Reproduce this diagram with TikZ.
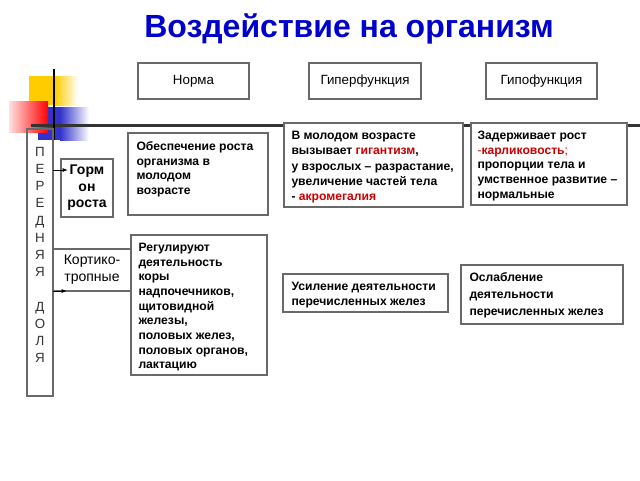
\documentclass[tikz,border=0pt]{standalone}
\usepackage{fontspec}
\setmainfont{Liberation Sans}
\usetikzlibrary{arrows.meta}

\definecolor{titleblue}{RGB}{0,0,204}
\definecolor{termred}{RGB}{204,0,0}
\definecolor{sqyellow}{RGB}{255,204,0}
\definecolor{sqred}{RGB}{255,0,0}
\definecolor{sqblue}{RGB}{51,51,204}
\definecolor{boxgray}{RGB}{105,105,105}

\tikzset{
	box/.style={draw=boxgray, line width=0.9pt, fill=white, inner sep=0pt, outer sep=0pt},
	headbox/.style={box, minimum height=27pt, font=\fontsize{10}{12}\selectfont},
	bodytext/.style={anchor=north west, inner sep=0pt, align=left, font=\bfseries\fontsize{9.1}{11}\selectfont},
	arr/.style={-{Latex[length=4pt,width=3pt]}, line width=0.75pt}}
\tikzset{every picture/.style={line width=0.75pt}}
\newcommand{\term}[1]{\textcolor{termred}{#1}}

\begin{document}
\begin{tikzpicture}[x=0.75pt,y=0.75pt,yscale=-1,xscale=1]
	\fill[white] (0,0) rectangle (640,480);
	\useasboundingbox (0,0) rectangle (640,480);

	%Shape: Square yellow
	\fill[sqyellow] (29,76) rectangle (55,105);
	\shade[left color=sqyellow, right color=white] (55,76) rectangle (78,105);
	%Shape: Square blue
	\fill[sqblue] (38,107) rectangle (60,140);
	\shade[left color=sqblue, right color=white] (60,107) rectangle (89,140);
	%Shape: Square red
	\shade[left color=sqred!12, right color=sqred] (9,101) rectangle (48,132);
	%Straight Lines
	\draw[line width=2pt, black!80] (31,125.5) -- (640,125.5);
	\draw[line width=2pt, black] (54,69) -- (54,140);

	% Text Node
	\node[anchor=base, font=\bfseries\fontsize{24}{28}\selectfont, text=titleblue] (title) at (349,37) {Воздействие на организм};

	%Shape: Rectangle
	\node[headbox, minimum width=83.25pt] (norma) at (193.5,81) {Норма};
	\node[headbox, minimum width=84pt] (hyper) at (365,81) {Гиперфункция};
	\node[headbox, minimum width=83.25pt] (hypo) at (541.5,81) {Гипофункция};

	%Shape: Rectangle
	\node[box, fill=none, minimum width=19.5pt, minimum height=200.25pt] (column) at (40,262.5) {};
	% Text Node
	\node[inner sep=0pt, align=center, text=black!80, font=\fontsize{10}{12.9}\selectfont] (columnText) at (40,255) {П\\Е\\Р\\Е\\Д\\Н\\Я\\Я\\[12.9pt]Д\\О\\Л\\Я};

	%Shape: Rectangle
	\node[box, minimum width=39pt, minimum height=43.5pt, align=center, font=\bfseries\fontsize{10.5}{12.4}\selectfont] (gormon) at (87,188) {Горм\\он\\роста};
	\node[box, minimum width=58.5pt, minimum height=31.5pt, align=center, font=\fontsize{10.5}{12.6}\selectfont] (kortiko) at (92,270) {Кортико-\\тропные};
	\node[box, minimum width=105pt, minimum height=61.5pt] (obesp) at (198,174) {};
	\node[box, minimum width=102pt, minimum height=105pt] (regul) at (199,305) {};
	\node[box, minimum width=134.25pt, minimum height=63pt] (gigant) at (373.5,165) {};
	\node[box, minimum width=117pt, minimum height=61.5pt] (karlik) at (549,164) {};
	\node[box, minimum width=123.75pt, minimum height=28.5pt] (usil) at (365.5,293) {};
	\node[box, minimum width=121.5pt, minimum height=44.25pt] (oslab) at (542,294.5) {};

	%Straight Lines
	\coordinate (gormonTip) at (68,170);
	\draw[arr] (column.east |- gormonTip) -- (gormonTip);
	\coordinate (kortikoTip) at (67,291);
	\draw[arr] (kortiko.south west) -- (kortikoTip);

	% Text Node
	\node[bodytext] (obespText) at (136,141) {Обеспечение роста\\организма в\\молодом\\возрасте};
	% Text Node
	\node[bodytext] (regulText) at (138,242.5) {Регулируют\\деятельность\\коры\\надпочечников,\\щитовидной\\железы,\\половых желез,\\половых органов,\\лактацию};
	% Text Node
	\node[bodytext, font=\bfseries\fontsize{9.1}{11.5}\selectfont] (gigantText) at (291,130.5) {В молодом возрасте\\вызывает \term{гигантизм},\\у взрослых – разрастание,\\увеличение частей тела\\- \term{акромегалия}};
	% Text Node
	\node[bodytext] (karlikText) at (477,130.5) {Задерживает рост\\{\mdseries\term{-}}\term{карликовость}{\mdseries\term{;}}\\пропорции тела и\\умственное развитие –\\нормальные};
	% Text Node
	\node[bodytext, font=\bfseries\fontsize{9.1}{11.25}\selectfont] (usilText) at (291,281.5) {Усиление деятельности\\перечисленных желез};
	% Text Node
	\node[bodytext, font=\bfseries\fontsize{9.1}{12.5}\selectfont] (oslabText) at (469,272.5) {Ослабление\\деятельности\\перечисленных желез};

\end{tikzpicture}
\end{document}
